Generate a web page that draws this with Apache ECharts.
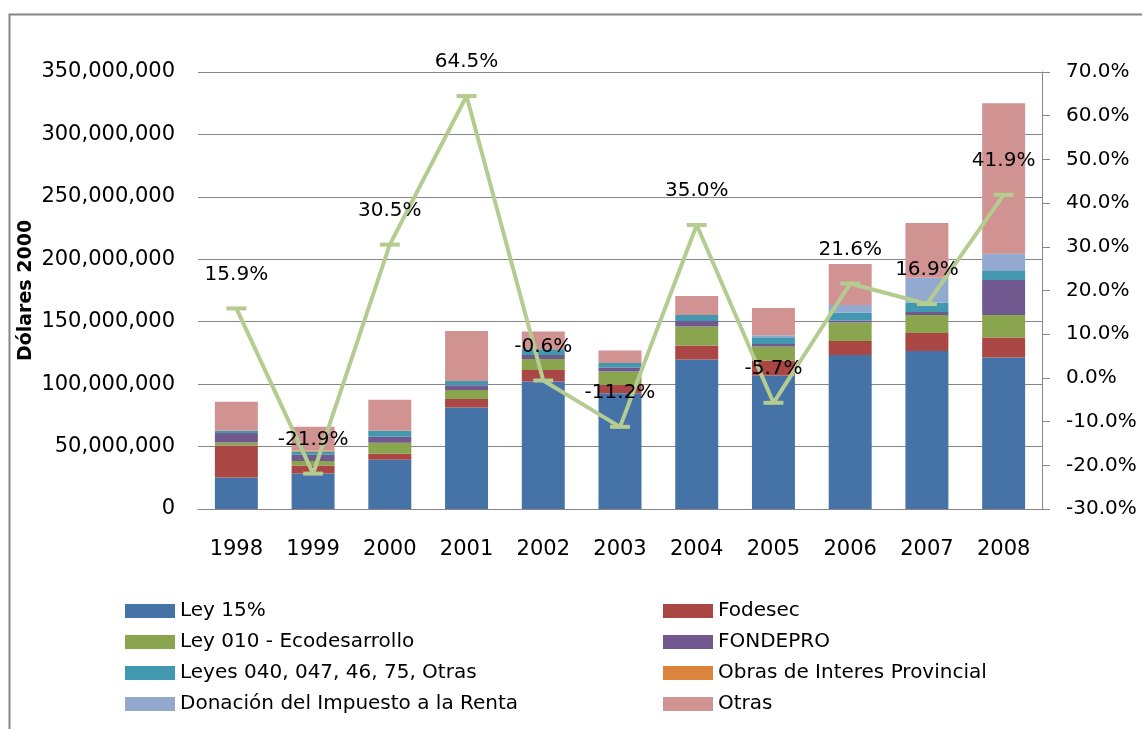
<!DOCTYPE html>
<html>
<head>
<meta charset="utf-8">
<script src="https://cdn.jsdelivr.net/npm/echarts@6/dist/echarts.min.js"></script>
<style>
  html, body { margin: 0; padding: 0; background: #fff; }
  #canvas { width: 1142px; height: 729px; }
</style>
</head>
<body>
<div id="canvas"></div>
<script>
// datos (dolares 2000)
var years = ['1998', '1999', '2000', '2001', '2002', '2003', '2004', '2005', '2006', '2007', '2008'];
var ley15    = [25300000, 28500000, 39400000, 81300000, 102100000, 92800000, 119700000, 106900000, 123400000, 126600000, 121300000];
var fodesec  = [25600000, 6400000, 4800000, 6900000, 9300000, 6600000, 11200000, 12000000, 11200000, 14400000, 16000000];
var ley010   = [2400000, 3500000, 8800000, 7200000, 8800000, 10700000, 15200000, 11200000, 14700000, 14400000, 18100000];
var fondepro = [7500000, 5000000, 4800000, 3800000, 3200000, 3200000, 4500000, 2100000, 1600000, 2400000, 28000000];
var leyes    = [1800000, 2700000, 4800000, 3400000, 4600000, 3700000, 4800000, 5400000, 6400000, 7500000, 7200000];
var obras    = [0, 800000, 0, 0, 0, 0, 0, 0, 0, 0, 0];
var donacion = [0, 0, 0, 0, 0, 0, 0, 1600000, 6100000, 20000000, 13900000];
var otras    = [23200000, 18900000, 24800000, 40000000, 14100000, 9900000, 15200000, 21800000, 32800000, 43700000, 120500000];
var crecimiento = [15.9, -21.9, 30.5, 64.5, -0.6, -11.2, 35.0, -5.7, 21.6, 16.9, 41.9];

var FONT = 'DejaVu Sans';
var myChart = echarts.init(document.getElementById('canvas'));

function barra(nombre, datos, color) {
    return {
        name: nombre,
        type: 'bar',
        stack: 'total',
        barWidth: '56%',
        itemStyle: { color: color },
        data: datos
    };
}

var leyenda = {
    orient: 'vertical',
    top: 601,
    padding: 0,
    itemWidth: 50, itemHeight: 14, itemGap: 11,
    textStyle: { fontSize: 20, lineHeight: 20, color: '#000', fontFamily: FONT },
    icon: 'rect'
};

var option = {
    animation: false,
    textStyle: { fontFamily: FONT },
    graphic: [{
        type: 'rect',
        left: 7, top: 12,
        shape: { width: 1300, height: 900 },
        style: { fill: 'none', stroke: '#858585', lineWidth: 2 },
        silent: true
    }],
    grid: { left: 198, right: 100, top: 72, height: 437 },
    legend: [
        Object.assign({}, leyenda, {
            left: 125,
            data: ['Ley 15%', 'Ley 010 - Ecodesarrollo', 'Leyes 040, 047, 46, 75, Otras', 'Donación del Impuesto a la Renta']
        }),
        Object.assign({}, leyenda, {
            left: 663,
            data: ['Fodesec', 'FONDEPRO', 'Obras de Interes Provincial', 'Otras']
        })
    ],
    xAxis: {
        type: 'category',
        data: years,
        axisLine: { lineStyle: { color: '#868686' } },
        axisTick: { show: false },
        axisLabel: { color: '#000', fontSize: 21, margin: 30, fontFamily: FONT }
    },
    yAxis: [{
        type: 'value',
        min: 0, max: 350000000, interval: 50000000,
        name: 'Dólares 2000',
        nameLocation: 'middle',
        nameGap: 162,
        nameMoveOverlap: false,
        nameRotate: 90,
        nameTextStyle: { fontSize: 19, fontWeight: 'bold', color: '#000', fontFamily: FONT },
        axisLine: { show: false },
        axisTick: { show: false },
        axisLabel: {
            color: '#000', fontSize: 21, margin: 23, fontFamily: FONT,
            formatter: function (v) { return String(v).replace(/\B(?=(\d{3})+(?!\d))/g, ','); }
        },
        splitLine: { lineStyle: { color: '#868686' } }
    }, {
        type: 'value',
        position: 'right',
        min: -30, max: 70, interval: 10,
        axisLine: { show: true, lineStyle: { color: '#868686' } },
        axisTick: { show: true, inside: false, length: 8, lineStyle: { color: '#868686' } },
        axisLabel: {
            color: '#000', fontSize: 20, margin: 24, fontFamily: FONT,
            formatter: function (v) { return v.toFixed(1) + '%'; }
        },
        splitLine: { show: false }
    }],
    series: [
        barra('Ley 15%', ley15, '#4572A7'),
        barra('Fodesec', fodesec, '#AA4643'),
        barra('Ley 010 - Ecodesarrollo', ley010, '#89A54E'),
        barra('FONDEPRO', fondepro, '#71588F'),
        barra('Leyes 040, 047, 46, 75, Otras', leyes, '#4198AF'),
        barra('Obras de Interes Provincial', obras, '#DB843D'),
        barra('Donación del Impuesto a la Renta', donacion, '#93A9CF'),
        barra('Otras', otras, '#D19392'),
        {
            name: 'Crecimiento',
            type: 'line',
            yAxisIndex: 1,
            z: 5,
            symbol: 'rect',
            symbolSize: [20, 4],
            itemStyle: { color: '#B5CC91' },
            lineStyle: { color: '#B5CC91', width: 4 },
            label: {
                show: true,
                position: 'top',
                distance: 22,
                color: '#000',
                fontSize: 20,
                fontFamily: FONT,
                formatter: function (p) { return p.value.toFixed(1) + '%'; }
            },
            data: crecimiento
        }
    ]
};

myChart.setOption(option);
</script>
</body>
</html>
